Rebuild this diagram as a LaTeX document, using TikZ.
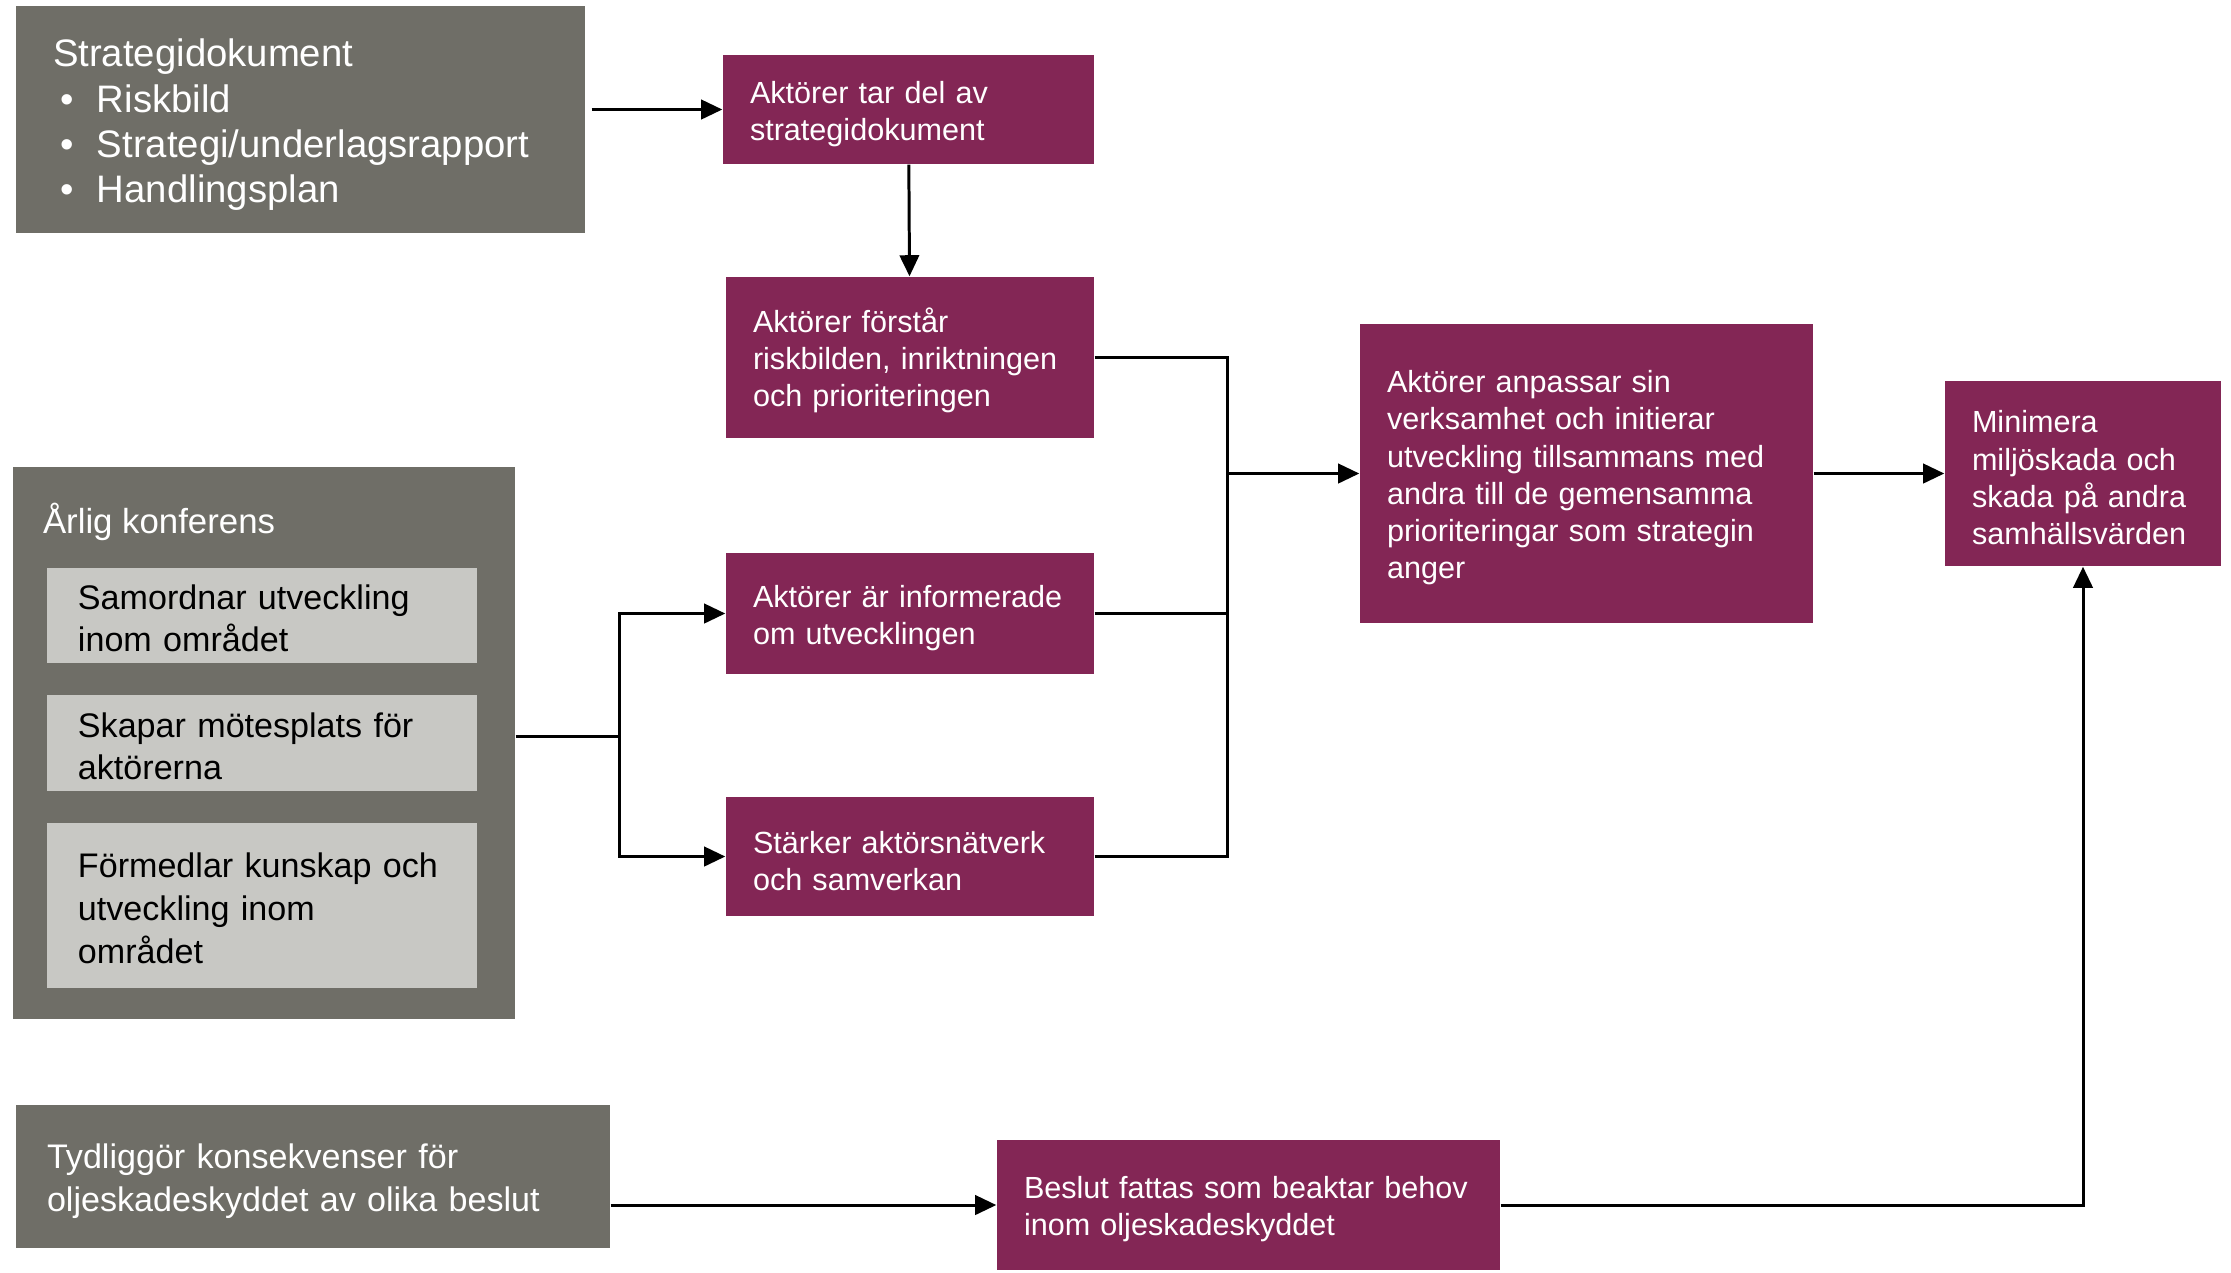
\documentclass[tikz,border=0pt]{standalone}
\usepackage{fontspec}
\setmainfont{Liberation Sans}
\usepackage{xcolor}
\usepackage{tikz}
\usetikzlibrary{arrows.meta,positioning}
\definecolor{boxpurple}{RGB}{131,38,85}
\definecolor{boxgrey}{RGB}{111,110,103}
\definecolor{boxlight}{RGB}{200,200,196}
\tikzset{>={Triangle[length=6pt,width=5.5pt]}}
\tikzset{purple node/.style={rectangle,fill=boxpurple,text=white,align=left,inner xsep=0.27cm,inner ysep=0pt,font=\fontsize{8.7}{10.6}\selectfont,execute at begin node={\rule{0pt}{1em}}},
            grey node/.style={rectangle,fill=boxgrey,text=white,align=left,inner xsep=0.31cm,inner ysep=0pt,font=\fontsize{9.7}{12.1}\selectfont,execute at begin node={\rule{0pt}{1em}}},
            light node/.style={rectangle,fill=boxlight,text=black,align=left,inner xsep=0.31cm,inner ysep=0pt,font=\fontsize{9.7}{12.1}\selectfont,execute at begin node={\rule{0pt}{0.9em}}},
            }

\begin{document}
\begin{tikzpicture}
    \useasboundingbox (0,0) rectangle (22.31,-12.72);

    % left column
    \node[grey node,text width=4.95cm,inner xsep=0.37cm,minimum height=2.27cm,font=\fontsize{10.9}{12.9}\selectfont] (strat) at (3.005,-1.195)
        {Strategidokument\\
         \hspace*{0.07cm}\makebox[0.37cm][l]{\textbullet}Riskbild\\
         \hspace*{0.07cm}\makebox[0.37cm][l]{\textbullet}Strategi/underlagsrapport\\
         \hspace*{0.07cm}\makebox[0.37cm][l]{\textbullet}Handlingsplan};
    \node[grey node,minimum width=5.02cm,minimum height=5.52cm] (arlig) at (2.64,-7.43) {};
    \node[anchor=west,text=white,inner sep=0pt,font=\fontsize{9.9}{12.1}\selectfont] (arligtitle) at ([xshift=0.30cm,yshift=-0.56cm]arlig.north west) {Årlig konferens};
    \node[light node,text width=3.68cm,minimum height=0.95cm] (samordnar) at (2.62,-6.155) {Samordnar utveckling\\inom området};
    \node[light node,text width=3.68cm,minimum height=0.96cm] (motesplats) [below = 0.31cm of samordnar] {Skapar mötesplats för\\aktörerna};
    \node[light node,text width=3.68cm,minimum height=1.65cm] (formedlar) [below = 0.30cm of motesplats] {Förmedlar kunskap och\\utveckling inom\\området};
    \node[grey node,text width=5.32cm,minimum height=1.43cm] (tydliggor) at (3.13,-11.765) {Tydliggör konsekvenser för\\oljeskadeskyddet av olika beslut};

    % middle column
    \node[purple node,text width=3.17cm,minimum height=1.09cm] (tardel) at (9.085,-1.095) {Aktörer tar del av\\strategidokument};
    \node[purple node,text width=3.14cm,minimum height=1.61cm] (forstar) at (9.10,-3.575) {Aktörer förstår\\riskbilden, inriktningen\\och prioriteringen};
    \node[purple node,text width=3.14cm,minimum height=1.21cm] (informerade) at (9.10,-6.135) {Aktörer är informerade\\om utvecklingen};
    \node[purple node,text width=3.14cm,minimum height=1.19cm] (starker) at (9.10,-8.565) {Stärker aktörsnätverk\\och samverkan};
    \node[purple node,text width=4.49cm,minimum height=1.30cm] (beslut) at (12.485,-12.05) {Beslut fattas som beaktar behov\\inom oljeskadeskyddet};

    % right column
    \node[purple node,text width=3.99cm,minimum height=2.99cm] (anpassar) at (15.865,-4.735) {Aktörer anpassar sin\\verksamhet och initierar\\utveckling tillsammans med\\andra till de gemensamma\\prioriteringar som strategin\\anger};
    \node[purple node,text width=2.22cm,minimum height=1.85cm] (minimera) at (20.83,-4.735) {Minimera\\miljöskada och\\skada på andra\\samhällsvärden};

    \coordinate (split) at (6.19,-7.36);
    \coordinate (merge) at (12.27,-4.735);

    \path[line width=0.85pt,->]
    (tardel) edge node {} (forstar)
    (merge) edge node {} (anpassar.west)
    (anpassar) edge node {} (minimera);

    \draw[line width=0.85pt,->] ([xshift=0.06cm]strat.east |- tardel.west) -- (tardel.west);
    \draw[line width=0.85pt,->] (tydliggor.east |- beslut.west) -- (beslut.west);
    \draw[line width=0.85pt] (arlig.east |- split) -- (split);
    \draw[line width=0.85pt,->] (split) |- (informerade.west);
    \draw[line width=0.85pt,->] (split) |- (starker.west);
    \draw[line width=0.85pt] (forstar.east) -| (merge);
    \draw[line width=0.85pt] (starker.east) -| (merge);
    \draw[line width=0.85pt] (informerade.east) -- (merge |- informerade.east);
    \draw[line width=0.85pt,->] (beslut.east) -| (minimera.south);

\end{tikzpicture}
\end{document}
